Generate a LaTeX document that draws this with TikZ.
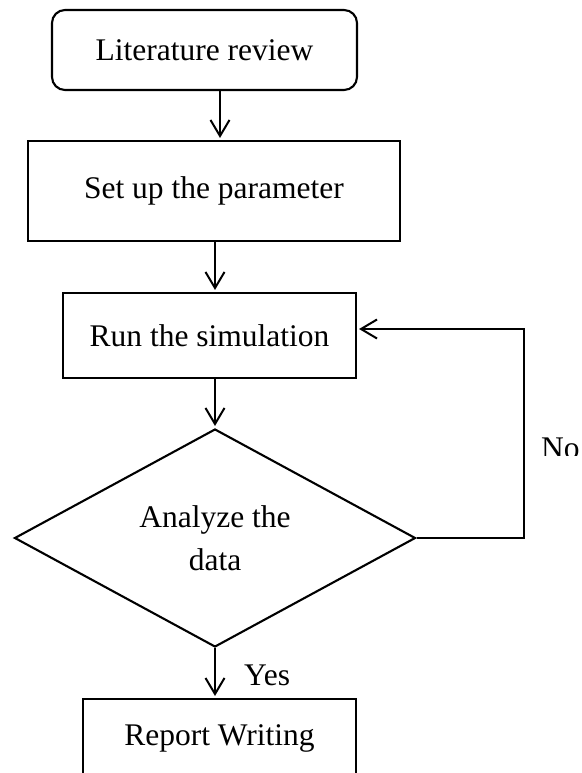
\documentclass[tikz,border=0pt]{standalone}
\usepackage{fontspec}
\setmainfont{Liberation Serif}
\usetikzlibrary{shapes.geometric,arrows.meta}

\tikzset{
  box/.style={draw, line width=2.1pt, inner sep=0pt, align=center},
  decision/.style={draw, diamond, line width=2.1pt, inner sep=0pt,
    shape aspect=1.84, align=center},
  arr/.style={line width=2pt, -{Straight Barb[length=16pt,width=19pt,line width=2pt]},
    shorten >=2pt},
  link/.style={line width=2pt},
  lbl/.style={inner sep=0pt}
}

\begin{document}
\begin{tikzpicture}[x=1pt, y=-1pt,
  font=\fontsize{31.5}{43}\selectfont]
  \useasboundingbox (0,0) rectangle (581,773);

  % process steps
  \node[box, rounded corners=13pt, minimum width=305pt, minimum height=80pt]
    (lit) at (204.5,50) {Literature review};
  \node[box, minimum width=372pt, minimum height=100pt]
    (setp) at (214,191) {Set up the parameter};
  \node[box, minimum width=293pt, minimum height=85pt]
    (run) at (209.5,335.5) {Run the simulation};
  \node[decision, minimum width=401pt, minimum height=218pt]
    (dia) at (215,538) {Analyze the\\data};
  \node[box, minimum width=273pt, minimum height=78pt]
    (rep) at (219.5,738) {Report Writing};

  % helper points for the connector columns
  \coordinate (c1) at (220,0);
  \coordinate (loopR) at (524,329);

  % main flow
  \draw[arr] (lit.south -| c1) -- (setp.north -| c1);
  \draw[arr] (setp.south -| dia.north) -- (run.north -| dia.north);
  \draw[arr] (run.south -| dia.north) -- (dia.north);
  \draw[arr] (dia.south) -- (rep.north -| dia.south);

  % feedback loop
  \draw[arr] (dia.east) -| (loopR) -- (run.east |- loopR);

  % branch labels
  \node[lbl, anchor=base west] (yes) at (244,685) {Yes};
  \begin{scope}
    \clip (530,420) rectangle (581,455);
    \node[lbl, anchor=base west] (no) at (541,458) {No};
  \end{scope}
\end{tikzpicture}
\end{document}
